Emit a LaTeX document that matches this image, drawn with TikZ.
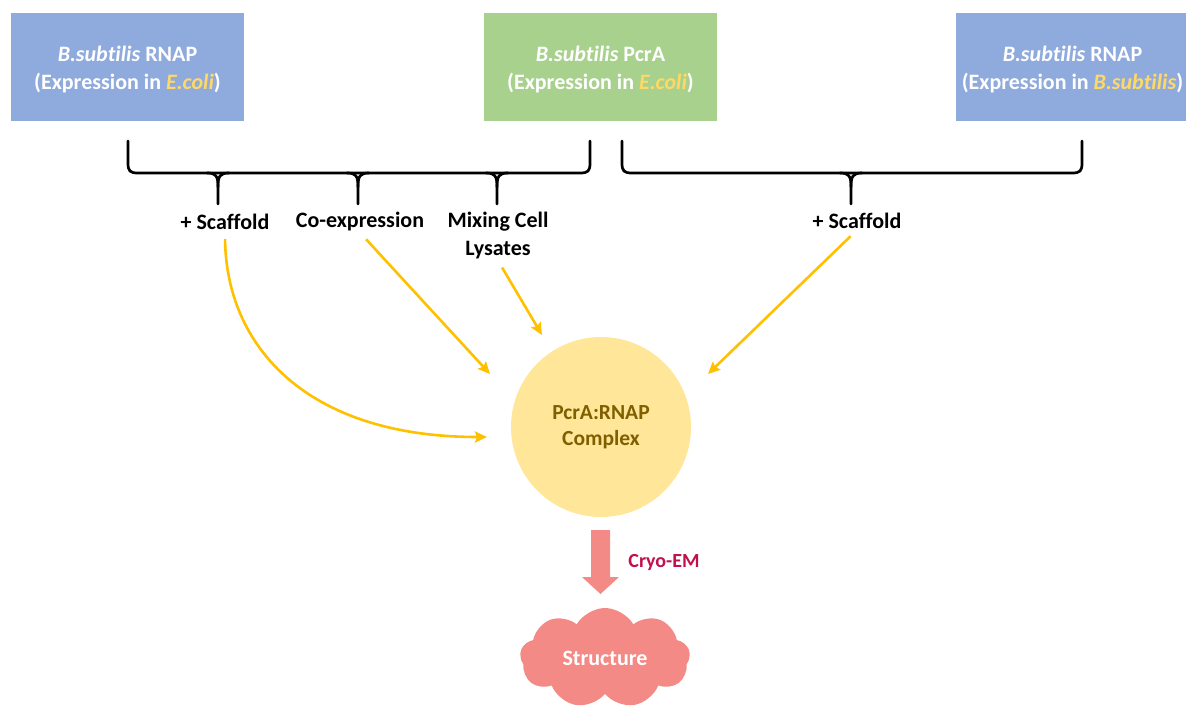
\documentclass[tikz,border=0pt]{standalone}
\usepackage{fontspec}
\setmainfont{Carlito}[Ligatures=NoCommon]
\usetikzlibrary{shapes.symbols,arrows.meta}
\definecolor{boxblue}{HTML}{8FAADC}
\definecolor{boxgreen}{HTML}{A9D18E}
\definecolor{eyellow}{HTML}{FFD966}
\definecolor{cplx}{HTML}{FFE699}
\definecolor{ctext}{HTML}{7F6000}
\definecolor{arrowgold}{HTML}{FFC000}
\definecolor{pinkc}{HTML}{F38A86}
\definecolor{cryoc}{HTML}{C0104F}
\begin{document}
\begin{tikzpicture}[x=1pt,y=-1pt,
  font=\fontsize{22}{28}\selectfont\bfseries,
  srcbox/.style={minimum width=233pt, minimum height=108pt, inner sep=0pt},
  boxtext/.style={text=white, align=center, yshift=-3pt},
  lbl/.style={align=center, inner sep=1pt},
  brace/.style={line width=2.7pt, line cap=round, line join=round},
  flow/.style={draw=arrowgold, line width=2.6pt, -{Stealth[length=12pt,width=11pt,inset=2pt]}}]
\useasboundingbox (0,0) rectangle (1186,706);
% source boxes
\node[srcbox, fill=boxblue, label={[boxtext]center:\textit{B.subtilis} RNAP\\(Expression in \textcolor{eyellow}{\textit{E.coli}})}] (rnapE) at (127.5,67) {};
\node[srcbox, fill=boxgreen, label={[boxtext]center:\textit{B.subtilis} PcrA\\(Expression in \textcolor{eyellow}{\textit{E.coli}})}] (pcra) at (600.5,67) {};
\node[srcbox, fill=boxblue, label={[boxtext]center:\textit{B.subtilis} RNAP\\(Expression in \textcolor{eyellow}{\textit{B.subtilis}})}] (rnapB) at (1072.5,67) {};
% brace 1
\draw[brace] (128,141) -- (128,163) .. controls (128,171) and (130,173) .. (138,173) -- (580,173) .. controls (588,173) and (590,171) .. (590,163) -- (590,141);
\foreach \t in {218,358,497}{
  \draw[brace] ({\t-11},173) .. controls ({\t-2},173) and (\t,176) .. (\t,187) -- (\t,204);
  \draw[brace] ({\t+11},173) .. controls ({\t+2},173) and (\t,176) .. (\t,187);
}
% brace 2
\draw[brace] (622,141) -- (622,163) .. controls (622,171) and (624,173) .. (632,173) -- (1072,173) .. controls (1080,173) and (1082,171) .. (1082,163) -- (1082,141);
\draw[brace] (840,173) .. controls (849,173) and (851,176) .. (851,187) -- (851,204);
\draw[brace] (862,173) .. controls (853,173) and (851,176) .. (851,187);
% labels
\node[lbl] (sc1) at (225,222) {+ Scaffold};
\node[lbl] (coex) at (360,222) {Co-expression};
\node[lbl] (mix) at (498,236) {Mixing Cell\\Lysates};
\node[lbl] (sc2) at (857,221) {+ Scaffold};
% complex
\node[circle, fill=cplx, minimum size=180pt, inner sep=0pt, text=ctext, align=center, font=\fontsize{21.5}{26}\selectfont\bfseries] (cx) at (601,427) {PcrA:RNAP\\Complex};
% arrow ends
\coordinate (e1) at (487,437);
\coordinate (e2) at (490,374);
\coordinate (e3) at (542,335);
\coordinate (e4) at (708,374);
\draw[flow, shorten <=8pt] (sc1.south) .. controls (226,345) and (305,437) .. (e1);
\draw[flow, shorten <=9pt] (coex.south) -- (e2);
\draw[flow, shorten <=8pt] (mix.south) -- (e3);
\draw[flow, shorten <=9pt] (sc2.south) -- (e4);
% block arrow
\fill[pinkc] (591,530) -- (610,530) -- (610,577) -- (619,577) -- (600.5,594) -- (582,577) -- (591,577) -- cycle;
\node[text=cryoc, font=\fontsize{20}{24}\selectfont\bfseries] (cryo) at (664,563) {Cryo-EM};
% cloud
\node[cloud, cloud puffs=9, cloud puff arc=120, aspect=1.7, fill=pinkc, minimum width=170pt, minimum height=100pt, inner sep=0pt, text=white] (str) at (605,658) {Structure};
\end{tikzpicture}
\end{document}
